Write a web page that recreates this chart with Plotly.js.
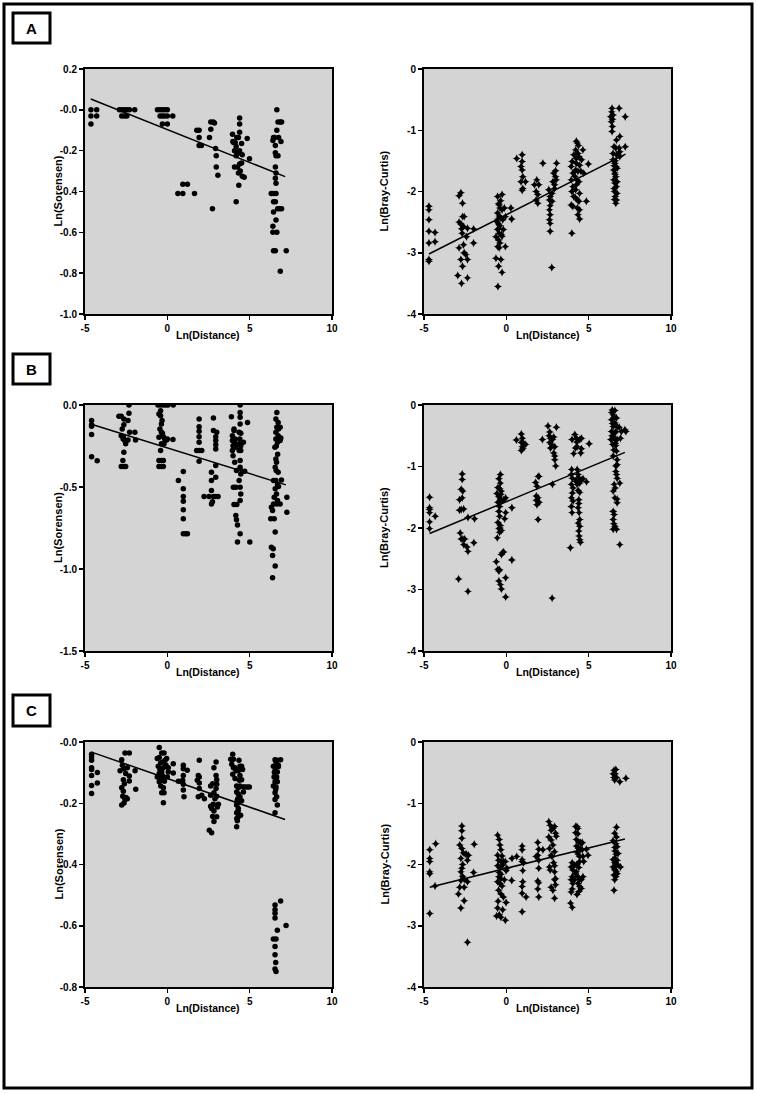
<!DOCTYPE html>
<html>
<head>
<meta charset="utf-8">
<script src="https://cdn.plot.ly/plotly-3.0.1.min.js"></script>
<style>
  html, body { margin: 0; padding: 0; background: #fff; }
  #plots { width: 757px; height: 1094px; }
</style>
</head>
<body>
<div id="plots"></div>
<script>
// ---------- Data ----------
const panelLetters = ['A', 'B', 'C'];
const xTickVals = [-5, 0, 5, 10];
const xTickText = ['-5', '0', '5', '10'];

const sorTickValsA = [0.2, 0, -0.2, -0.4, -0.6, -0.8, -1.0];
const sorTickTextA = ['0.2', '-0.0', '-0.2', '-0.4', '-0.6', '-0.8', '-1.0'];
const sorTickValsB = [0, -0.5, -1.0, -1.5];
const sorTickTextB = ['0.0', '-0.5', '-1.0', '-1.5'];
const sorTickValsC = [0, -0.2, -0.4, -0.6, -0.8];
const sorTickTextC = ['-0.0', '-0.2', '-0.4', '-0.6', '-0.8'];
const bcTickVals = [0, -1, -2, -3, -4];
const bcTickText = ['0', '-1', '-2', '-3', '-4'];

// A: Ln(Sorensen) vs Ln(Distance)
const A_SOR = [[-4.64,0],[-4.64,-0.03],[-4.64,-0.07],[-4.29,0],[-4.29,-0.03],
  [-2.91,0],[-2.77,0],[-2.61,0],[-2.46,0],[-2.30,0],[-2.77,-0.03],[-2.61,-0.03],[-2.46,-0.03],[-1.98,0],
  [-0.6,0],[-0.44,0],[-0.3,0],[-0.16,0],[0,0],[-0.44,-0.03],[-0.3,-0.03],[-0.16,-0.03],[0,-0.03],[-0.3,-0.07],[0,-0.07],[0.33,-0.03],
  [0.64,-0.41],[0.94,-0.41],[0.94,-0.365],[1.22,-0.365],[1.65,-0.41],
  [1.79,-0.1],[1.93,-0.1],[1.93,-0.135],[1.93,-0.175],[2.07,-0.175],
  [2.56,-0.135],[2.64,-0.095],[2.64,-0.06],[2.79,-0.06],[2.86,-0.065],[2.93,-0.19],[2.97,-0.225],[2.97,-0.28],[3.07,-0.32],[2.74,-0.485],
  [3.96,-0.12],[3.98,-0.155],[4.02,-0.16],[4.12,-0.16],[4.22,-0.135],[4.32,-0.135],[4.39,-0.04],[4.39,-0.07],[4.39,-0.11],[4.18,-0.18],
  [4.08,-0.2],[4.18,-0.225],[4.26,-0.215],[4.39,-0.2],[4.51,-0.165],[4.55,-0.22],[4.08,-0.28],[4.26,-0.28],[4.39,-0.265],[4.51,-0.26],
  [4.32,-0.31],[4.43,-0.3],[4.55,-0.325],[4.67,-0.33],[4.34,-0.37],[4.18,-0.45],[4.85,-0.14],[4.99,-0.24],
  [6.41,-0.15],[6.45,-0.135],[6.56,-0.175],[6.56,-0.21],[6.65,0],[6.72,-0.06],[6.86,-0.06],[6.94,-0.06],[6.65,-0.1],[6.52,-0.135],
  [6.76,-0.135],[6.9,-0.155],[6.6,-0.225],[6.72,-0.225],[6.56,-0.28],[6.6,-0.31],[6.56,-0.335],[6.6,-0.36],[6.31,-0.41],[6.45,-0.41],
  [6.6,-0.41],[6.45,-0.45],[6.56,-0.45],[6.45,-0.5],[6.7,-0.485],[6.82,-0.485],[6.94,-0.485],[6.6,-0.54],[6.41,-0.57],[6.41,-0.6],
  [6.65,-0.6],[6.45,-0.69],[6.56,-0.69],[7.22,-0.69],[6.86,-0.79]];
const A_SOR_FIT_X = [-4.65, 7.16];
const A_SOR_FIT_Y = [0.053, -0.327];

// A: Ln(Bray-Curtis) vs Ln(Distance)
const A_BC = [[-4.7,-2.24],[-4.7,-2.3],[-4.7,-2.46],[-4.7,-2.65],[-4.7,-2.84],[-4.7,-3.11],[-4.7,-3.14],[-4.33,-2.67],[-4.33,-2.82],
  [-2.87,-2.07],[-2.76,-2.02],[-2.66,-2.19],[-2.87,-2.5],[-2.76,-2.53],[-2.66,-2.41],[-2.6,-2.57],[-2.72,-2.61],[-2.87,-2.92],[-2.95,-3.37],
  [-2.76,-3.11],[-2.66,-3.22],[-2.72,-3.5],[-2.6,-2.87],[-2.56,-3.0],[-2.46,-3.03],[-2.36,-3.11],[-2.36,-3.41],[-2.42,-2.74],[-2.36,-2.6],
  [-1.99,-2.61],[-1.99,-2.84],[-2.68,-2.68],[-2.56,-2.41],
  [-0.53,-2.08],[-0.26,-2.05],[-0.43,-2.22],[-0.39,-2.27],[-0.26,-2.3],[-0.53,-2.35],[-0.43,-2.4],[-0.33,-2.43],[-0.59,-2.49],[-0.47,-2.53],
  [-0.39,-2.56],[-0.53,-2.62],[-0.43,-2.68],[-0.63,-2.74],[-0.47,-2.79],[-0.39,-2.84],[-0.53,-2.9],[-0.43,-2.92],[-0.63,-3.09],[-0.33,-3.11],
  [-0.47,-3.22],[-0.26,-3.32],[-0.51,-3.55],[-0.12,-2.27],[-0.06,-2.9],[-0.06,-2.41],[0.28,-2.27],[0.33,-2.45],[-0.22,-2.46],[-0.18,-2.62],
  [-0.26,-2.73],[-0.47,-2.2],[-0.35,-2.15],[-0.45,-2.6],[-0.3,-2.7],[-0.5,-2.45],
  [0.63,-1.46],[0.96,-1.4],[0.96,-1.51],[0.89,-1.59],[0.96,-1.65],[1.0,-1.76],[0.89,-1.84],[1.16,-1.84],[1.0,-1.95],[0.96,-1.98],
  [1.71,-1.89],[1.85,-1.81],[1.97,-1.89],[1.81,-2.0],[1.91,-2.05],[1.81,-2.14],[1.91,-2.19],[2.22,-1.54],
  [2.58,-1.97],[2.66,-2.08],[2.62,-2.14],[2.66,-2.23],[2.62,-2.3],[2.66,-2.38],[2.62,-2.46],[2.66,-2.52],[2.66,-2.65],[2.78,-2.03],
  [2.78,-2.16],[2.83,-1.84],[2.87,-1.7],[2.99,-1.66],[3.05,-1.54],[2.93,-1.89],[2.93,-1.95],[2.99,-1.76],[3.03,-1.81],[2.76,-3.24],
  [3.94,-1.59],[4.0,-1.51],[4.04,-1.7],[3.94,-1.81],[4.04,-1.92],[3.98,-2.0],[4.09,-2.08],[3.94,-2.22],[4.04,-2.24],[4.25,-1.18],
  [4.31,-1.21],[4.21,-1.32],[4.35,-1.38],[4.25,-1.46],[4.41,-1.43],[4.25,-1.54],[4.45,-1.57],[4.21,-1.65],[4.35,-1.67],[4.29,-1.81],
  [4.41,-1.84],[4.25,-1.89],[4.21,-1.97],[4.45,-2.03],[4.31,-2.14],[4.41,-2.16],[4.31,-2.27],[4.45,-2.3],[4.35,-2.38],[4.45,-2.45],
  [4.65,-1.32],[4.57,-1.48],[4.53,-1.67],[4.7,-1.7],[4.98,-1.55],[4.86,-2.16],[3.98,-2.68],[4.1,-1.4],[4.15,-1.75],[4.38,-1.25],[4.2,-2.1],
  [6.42,-0.64],[6.85,-0.64],[6.34,-0.78],[6.48,-0.75],[6.38,-0.86],[6.44,-0.94],[6.42,-1.02],[7.22,-0.78],[6.89,-1.1],[6.69,-1.16],
  [6.54,-1.27],[6.65,-1.29],[6.85,-1.29],[7.22,-1.27],[6.48,-1.38],[6.69,-1.4],[6.79,-1.39],[6.48,-1.48],[6.59,-1.54],[6.65,-1.59],
  [6.52,-1.65],[6.59,-1.7],[6.65,-1.76],[6.52,-1.81],[6.59,-1.86],[6.69,-1.92],[6.57,-2.0],[6.61,-2.08],[6.69,-2.14],[6.65,-2.19],
  [6.57,-2.13],[6.73,-2.03],[6.73,-1.84],[6.73,-1.62],[6.89,-1.43],[6.89,-1.35],[6.4,-0.7],[6.45,-0.82],[6.55,-1.58],[6.6,-1.72],
  [6.55,-1.95],[6.62,-1.5]];
const A_BC_FIT_X = [-4.70, 7.24];
const A_BC_FIT_Y = [-3.02, -1.39];

// B: Ln(Sorensen)
const B_SOR = [[-4.6,-0.095],[-4.6,-0.12],[-4.6,-0.13],[-4.6,-0.18],[-4.6,-0.315],[-4.26,-0.34],
  [-2.94,-0.069],[-2.8,-0.069],[-2.64,-0.085],[-2.64,-0.12],[-2.74,-0.146],[-2.8,-0.187],[-2.68,-0.207],[-2.59,-0.217],[-2.53,-0.237],
  [-2.64,-0.288],[-2.7,-0.339],[-2.8,-0.375],[-2.64,-0.375],[-2.53,-0.375],[-2.33,0],[-2.33,-0.051],[-2.39,-0.095],[-2.29,-0.166],
  [-2.39,-0.213],[-1.97,-0.166],[-1.93,-0.213],[-2.68,-0.193],
  [-0.57,0],[-0.41,0],[-0.24,0],[-0.1,0],[0.04,0],[0.36,0],[-0.51,-0.055],[-0.41,-0.065],[-0.36,-0.116],[-0.45,-0.146],[-0.36,-0.166],
  [-0.51,-0.197],[-0.3,-0.173],[-0.24,-0.193],[-0.16,-0.207],[-0.04,-0.213],[0.0,-0.207],[-0.41,-0.278],[-0.51,-0.339],[-0.36,-0.339],
  [-0.24,-0.339],[-0.51,-0.375],[-0.36,-0.375],[-0.24,-0.375],[0.34,-0.211],[-0.36,-0.237],[-0.2,-0.237],[-0.32,-0.095],[-0.41,-0.035],
  [0.67,-0.46],[0.97,-0.406],[0.97,-0.511],[0.97,-0.558],[0.97,-0.587],[0.97,-0.639],[0.97,-0.694],[0.97,-0.785],[1.11,-0.785],[1.22,-0.785],
  [1.93,-0.085],[1.93,-0.132],[1.93,-0.16],[1.93,-0.193],[1.93,-0.227],[1.78,-0.278],[1.93,-0.278],[2.09,-0.278],[1.93,-0.343],
  [2.23,-0.558],[2.53,-0.558],[2.68,-0.522],[2.68,-0.461],[2.68,-0.41],[2.8,-0.079],[2.8,-0.156],[3.0,-0.166],[2.94,-0.193],[2.94,-0.217],
  [2.94,-0.242],[2.94,-0.268],[2.94,-0.369],[2.94,-0.44],[2.8,-0.558],[2.94,-0.558],[3.08,-0.558],[2.68,-0.603],[2.74,-0.59],
  [3.89,-0.071],[4.05,-0.146],[3.95,-0.187],[3.95,-0.217],[3.99,-0.248],[3.95,-0.278],[3.99,-0.309],[4.05,-0.156],[4.12,-0.207],[4.09,-0.233],
  [4.16,-0.258],[4.09,-0.349],[4.2,-0.4],[4.16,-0.501],[4.01,-0.501],[4.05,-0.607],[4.22,-0.607],[4.16,-0.674],[4.2,-0.7],[4.26,-0.731],
  [4.26,-0.836],[4.42,0],[4.42,-0.045],[4.42,-0.075],[4.42,-0.116],[4.36,-0.166],[4.46,-0.173],[4.4,-0.207],[4.36,-0.237],[4.46,-0.248],
  [4.36,-0.278],[4.46,-0.278],[4.42,-0.339],[4.42,-0.38],[4.46,-0.42],[4.56,-0.406],[4.36,-0.461],[4.42,-0.501],[4.46,-0.542],[4.42,-0.583],
  [4.42,-0.785],[4.62,-0.227],[4.7,-0.404],[4.87,-0.106],[5.01,-0.836],
  [6.65,-0.045],[6.59,-0.085],[6.73,-0.106],[6.65,-0.136],[6.75,-0.146],[6.85,-0.136],[6.59,-0.166],[6.73,-0.187],[6.89,-0.201],[6.59,-0.207],
  [6.69,-0.227],[6.85,-0.217],[6.53,-0.258],[6.59,-0.329],[6.63,-0.349],[6.61,-0.4],[6.73,-0.41],[6.45,-0.461],[6.59,-0.461],[6.69,-0.485],
  [6.75,-0.497],[6.93,-0.457],[6.55,-0.511],[6.49,-0.562],[6.63,-0.542],[6.69,-0.583],[6.45,-0.603],[6.32,-0.623],[6.39,-0.643],[6.28,-0.694],
  [6.49,-0.694],[6.65,-0.603],[6.55,-0.775],[6.32,-0.867],[6.43,-0.877],[6.39,-0.917],[6.55,-0.982],[6.39,-1.053],[7.26,-0.562],[7.26,-0.654],
  [6.85,-0.603],[6.62,-0.25],[6.7,-0.3],[6.55,-0.38]];
const B_SOR_FIT_X = [-4.66, 7.2];
const B_SOR_FIT_Y = [-0.116, -0.487];

// B: Ln(Bray-Curtis)
const B_BC = [[-4.66,-1.5],[-4.66,-1.67],[-4.66,-1.75],[-4.66,-1.9],[-4.66,-2.01],[-4.32,-1.81],[-4.66,-1.7],
  [-2.9,-2.83],[-2.8,-2.08],[-2.74,-2.18],[-2.64,-2.18],[-2.53,-2.18],[-2.59,-2.27],[-2.39,-2.31],[-2.33,-2.38],[-2.33,-3.03],[-2.68,-1.12],
  [-2.68,-1.21],[-2.74,-1.37],[-2.64,-1.4],[-2.84,-1.54],[-2.68,-1.51],[-2.74,-1.7],[-2.59,-1.69],[-2.84,-1.71],[-2.33,-1.83],[-1.93,-1.85],[-1.97,-2.24],
  [-0.36,-1.13],[-0.45,-1.2],[-0.36,-1.27],[-0.51,-1.34],[-0.41,-1.36],[-0.3,-1.4],[-0.57,-1.44],[-0.45,-1.49],[-0.36,-1.53],[-0.51,-1.58],
  [-0.3,-1.56],[-0.16,-1.54],[-0.04,-1.51],[-0.41,-1.65],[-0.45,-1.73],[-0.41,-1.81],[-0.51,-1.91],[-0.36,-1.96],[-0.45,-2.01],[-0.3,-2.04],
  [-0.41,-2.07],[-0.55,-2.16],[-0.3,-2.43],[-0.24,-2.4],[-0.16,-2.39],[-0.61,-2.55],[-0.51,-2.67],[-0.45,-2.7],[-0.41,-2.68],[-0.45,-2.86],
  [-0.36,-2.92],[-0.3,-2.99],[-0.04,-2.81],[-0.04,-3.12],[-0.04,-1.75],[-0.1,-1.85],[0.34,-1.67],[0.34,-2.52],[-0.38,-2.0],[-0.33,-1.45],
  [0.61,-0.57],[0.91,-0.47],[0.97,-0.54],[0.91,-0.61],[1.05,-0.62],[0.97,-0.68],[0.91,-0.74],[1.18,-0.64],[1.0,-0.71],
  [1.78,-1.26],[1.86,-1.32],[1.99,-1.16],[1.93,-1.16],[1.82,-1.48],[1.93,-1.51],[1.82,-1.55],[1.99,-1.58],[1.86,-1.62],[1.93,-1.86],
  [2.19,-0.56],[2.53,-0.34],[2.64,-0.44],[2.68,-0.54],[2.64,-0.61],[2.74,-0.64],[2.68,-0.7],[2.8,-0.56],[2.88,-0.52],[2.94,-0.68],
  [2.88,-0.78],[2.94,-0.83],[2.94,-0.89],[3.0,-0.99],[3.04,-0.36],[2.8,-1.29],[2.78,-3.14],[2.6,-0.5],
  [3.99,-0.56],[4.16,-0.48],[4.26,-0.54],[4.09,-0.79],[4.2,-0.7],[4.3,-0.68],[4.46,-0.56],[4.56,-0.54],[4.56,-0.71],[4.52,-0.78],
  [5.03,-0.63],[3.95,-1.13],[4.01,-1.19],[3.95,-1.29],[4.05,-1.35],[4.01,-1.43],[3.95,-1.51],[4.05,-1.56],[3.95,-1.65],[3.99,-1.75],
  [3.89,-2.32],[4.3,-1.05],[4.36,-1.13],[4.26,-1.21],[4.42,-1.19],[4.3,-1.29],[4.46,-1.27],[4.56,-1.22],[4.66,-1.2],[4.36,-1.39],
  [4.46,-1.42],[4.4,-1.54],[4.36,-1.67],[4.42,-1.75],[4.46,-1.86],[4.36,-1.92],[4.46,-1.97],[4.42,-2.13],[4.46,-2.19],[4.5,-2.23],
  [4.87,-1.25],[4.22,-1.24],[4.4,-2.05],[4.4,-1.6],[3.97,-1.05],[4.28,-0.6],
  [6.43,-0.08],[6.59,-0.09],[6.49,-0.16],[6.69,-0.21],[6.39,-0.24],[6.59,-0.29],[6.49,-0.35],[6.73,-0.35],[6.39,-0.43],[6.65,-0.43],
  [6.49,-0.51],[6.59,-0.56],[6.35,-0.56],[6.73,-0.56],[6.45,-0.64],[6.65,-0.66],[6.53,-0.73],[6.69,-0.75],[6.49,-0.83],[6.85,-0.36],
  [6.93,-0.54],[6.99,-0.43],[7.26,-0.43],[7.2,-0.4],[6.73,-0.89],[6.73,-0.97],[6.65,-0.99],[6.65,-1.08],[6.69,-1.13],[6.73,-1.19],
  [6.55,-1.29],[6.61,-1.35],[6.49,-1.4],[6.59,-1.51],[6.73,-1.53],[6.89,-1.27],[6.49,-1.73],[6.55,-1.78],[6.49,-1.86],[6.53,-1.93],
  [6.59,-1.97],[6.49,-2.02],[6.69,-2.02],[6.89,-2.27],[6.73,-1.59],[6.45,-0.3],[6.55,-0.2],[6.6,-0.45],[6.42,-0.5],[6.62,-0.62],[6.4,-0.12]];
const B_BC_FIT_X = [-4.66, 7.2];
const B_BC_FIT_Y = [-2.09, -0.77];

// C: Ln(Sorensen)
const C_SOR = [[-4.6,-0.04],[-4.6,-0.049],[-4.6,-0.06],[-4.6,-0.084],[-4.6,-0.09],[-4.6,-0.109],[-4.6,-0.142],[-4.6,-0.168],[-4.25,-0.1],[-4.25,-0.134],
  [-2.87,-0.094],[-2.77,-0.058],[-2.73,-0.076],[-2.67,-0.123],[-2.77,-0.149],[-2.67,-0.161],[-2.71,-0.177],[-2.77,-0.206],[-2.63,-0.199],
  [-2.57,-0.188],[-2.51,-0.181],[-2.43,-0.185],[-2.57,-0.036],[-2.31,-0.036],[-2.53,-0.103],[-2.43,-0.084],[-2.61,-0.136],[-2.31,-0.127],
  [-2.31,-0.111],[-1.96,-0.094],[-1.92,-0.154],[-2.63,-0.087],
  [-0.49,-0.018],[-0.61,-0.054],[-0.49,-0.051],[-0.34,-0.036],[-0.2,-0.036],[-0.4,-0.068],[-0.28,-0.065],[-0.14,-0.06],[-0.55,-0.079],
  [-0.4,-0.087],[-0.24,-0.084],[-0.04,-0.054],[0.06,-0.084],[-0.49,-0.103],[-0.34,-0.098],[-0.61,-0.114],[-0.4,-0.116],[-0.24,-0.114],
  [0.0,-0.114],[-0.49,-0.13],[-0.32,-0.125],[-0.18,-0.128],[-0.4,-0.144],[-0.24,-0.149],[-0.34,-0.166],[-0.2,-0.166],[-0.24,-0.198],
  [0.36,-0.071],[0.36,-0.101],[0.67,-0.128],[0.06,-0.098],[-0.08,-0.076],[-0.45,-0.09],[-0.3,-0.11],
  [0.97,-0.076],[0.97,-0.087],[0.97,-0.109],[0.93,-0.125],[0.97,-0.138],[0.97,-0.157],[1.01,-0.179],[1.21,-0.092],
  [1.94,-0.06],[1.88,-0.109],[1.94,-0.114],[1.94,-0.134],[1.94,-0.152],[1.88,-0.179],[2.09,-0.174],[2.25,-0.185],[1.82,-0.125],
  [2.63,-0.144],[2.55,-0.288],[2.69,-0.296],[2.63,-0.174],[2.63,-0.21],[2.69,-0.217],[2.75,-0.243],[2.79,-0.203],[2.83,-0.084],[2.96,-0.065],
  [2.96,-0.109],[3.0,-0.123],[3.0,-0.138],[2.96,-0.152],[3.0,-0.177],[2.89,-0.185],[2.83,-0.225],[2.83,-0.26],[3.0,-0.244],[3.1,-0.203],
  [3.04,-0.212],[2.83,-0.166],[2.75,-0.136],
  [3.97,-0.04],[3.85,-0.056],[4.01,-0.056],[3.91,-0.073],[4.01,-0.084],[4.11,-0.084],[4.17,-0.094],[3.97,-0.105],[4.11,-0.119],[4.35,-0.06],
  [4.41,-0.079],[4.51,-0.079],[4.57,-0.09],[4.31,-0.094],[4.41,-0.109],[4.51,-0.123],[4.21,-0.144],[4.31,-0.149],[4.41,-0.144],[4.62,-0.147],
  [4.72,-0.147],[4.86,-0.147],[4.98,-0.147],[4.21,-0.163],[4.31,-0.17],[4.41,-0.179],[4.25,-0.19],[4.21,-0.206],[4.31,-0.217],[4.21,-0.231],
  [4.31,-0.244],[4.25,-0.257],[4.21,-0.277],[4.45,-0.239],[4.51,-0.192],[4.62,-0.163],[4.37,-0.125],[4.25,-0.2],[4.3,-0.225],[4.22,-0.25],[4.28,-0.185],
  [6.54,-0.058],[6.68,-0.06],[6.88,-0.058],[6.44,-0.079],[6.6,-0.079],[6.74,-0.076],[6.54,-0.094],[6.68,-0.098],[6.48,-0.114],[6.64,-0.114],
  [6.54,-0.13],[6.68,-0.13],[6.44,-0.144],[6.6,-0.147],[6.54,-0.166],[6.64,-0.179],[6.54,-0.188],[6.68,-0.206],[6.54,-0.231],[6.74,-0.081],
  [6.6,-0.065],[6.5,-0.1],[6.62,-0.12],[6.58,-0.155],
  [6.54,-0.532],[6.88,-0.519],[6.54,-0.548],[6.54,-0.559],[6.54,-0.575],[6.68,-0.615],[6.44,-0.643],[6.6,-0.643],[6.54,-0.668],[6.54,-0.695],
  [6.58,-0.72],[6.54,-0.741],[6.6,-0.749],[7.21,-0.599]];
const C_SOR_FIT_X = [-4.6, 7.15];
const C_SOR_FIT_Y = [-0.033, -0.253];

// C: Ln(Bray-Curtis)
const C_BC = [[-4.65,-1.76],[-4.65,-1.9],[-4.65,-1.95],[-4.65,-2.12],[-4.65,-2.15],[-4.65,-2.8],[-4.29,-1.66],[-4.33,-2.35],
  [-2.7,-1.37],[-2.7,-1.45],[-2.7,-1.57],[-2.83,-1.68],[-2.7,-1.74],[-2.62,-1.81],[-2.76,-1.9],[-2.5,-1.83],[-2.42,-1.83],[-2.3,-1.85],
  [-2.36,-1.93],[-2.7,-2.06],[-2.76,-2.12],[-2.66,-2.19],[-2.76,-2.26],[-2.56,-2.24],[-2.36,-2.28],[-2.91,-2.48],[-2.83,-2.37],[-2.56,-2.37],
  [-2.56,-2.59],[-2.76,-2.71],[-2.36,-3.27],[-1.95,-1.67],[-1.99,-2.13],[-2.65,-2.0],
  [-0.53,-1.52],[-0.43,-1.59],[-0.39,-1.68],[-0.33,-1.76],[-0.53,-1.85],[-0.26,-1.86],[-0.47,-1.93],[-0.33,-1.95],[-0.18,-1.95],[-0.06,-1.95],
  [-0.53,-2.02],[-0.39,-2.05],[-0.22,-2.01],[-0.43,-2.13],[-0.33,-2.23],[-0.53,-2.28],[-0.39,-2.31],[-0.26,-2.35],[-0.47,-2.42],[-0.33,-2.48],
  [-0.18,-2.53],[-0.02,-2.62],[-0.53,-2.71],[-0.59,-2.84],[-0.43,-2.82],[-0.33,-2.86],[-0.06,-2.91],[-0.22,-2.74],[-0.12,-2.25],[-0.02,-2.1],
  [-0.33,-2.16],[0.35,-1.9],[0.33,-2.26],[0.02,-2.06],[-0.45,-2.2],[-0.5,-2.6],
  [0.63,-1.87],[0.96,-1.76],[0.96,-1.7],[0.96,-1.92],[0.96,-1.95],[1.0,-2.1],[1.0,-2.28],[0.96,-2.36],[0.96,-2.47],[0.96,-2.77],[1.2,-2.53],[1.04,-1.97],
  [1.91,-1.64],[1.97,-1.75],[1.91,-1.85],[1.81,-1.87],[1.97,-1.93],[1.97,-2.06],[1.91,-2.27],[1.97,-2.3],[1.91,-2.4],[1.97,-2.53],[2.22,-1.76],
  [2.58,-1.3],[2.66,-1.36],[2.72,-1.44],[2.83,-1.41],[2.93,-1.38],[2.99,-1.49],[3.03,-1.54],[2.58,-1.55],[2.72,-1.6],[2.83,-1.68],
  [2.62,-1.74],[2.72,-1.85],[2.78,-1.87],[2.93,-1.79],[2.87,-1.97],[2.93,-2.02],[2.62,-2.04],[2.66,-2.09],[2.93,-2.12],[2.99,-2.23],
  [2.93,-2.25],[2.99,-2.33],[2.72,-2.37],[2.83,-2.42],[2.93,-2.55],
  [4.21,-1.38],[4.29,-1.38],[4.35,-1.41],[4.21,-1.48],[4.35,-1.5],[4.25,-1.59],[4.41,-1.64],[4.51,-1.64],[4.25,-1.7],[4.39,-1.74],
  [4.49,-1.75],[4.61,-1.76],[4.55,-1.66],[4.35,-1.83],[4.45,-1.87],[4.65,-1.87],[4.45,-1.95],[4.29,-2.0],[4.0,-1.97],[3.94,-2.04],
  [4.04,-2.09],[4.15,-2.01],[4.0,-2.2],[3.94,-2.25],[4.04,-2.31],[4.15,-2.25],[4.0,-2.4],[3.94,-2.45],[4.25,-2.12],[4.35,-2.2],
  [4.45,-2.24],[4.55,-2.25],[4.35,-2.31],[4.45,-2.36],[4.41,-2.44],[4.29,-2.49],[4.55,-2.39],[3.9,-2.63],[4.0,-2.7],[4.61,-1.64],
  [4.7,-1.95],[4.86,-1.75],[4.96,-1.85],[4.65,-2.2],[4.3,-1.8],[4.4,-2.05],[4.2,-2.15],
  [6.54,-0.46],[6.65,-0.45],[6.48,-0.52],[6.62,-0.52],[6.54,-0.58],[6.69,-0.58],[6.58,-0.62],[6.89,-0.65],[7.26,-0.59],[6.69,-1.39],
  [6.58,-1.49],[6.69,-1.55],[6.48,-1.61],[6.65,-1.66],[6.58,-1.72],[6.73,-1.71],[6.65,-1.83],[6.58,-1.9],[6.48,-1.92],[6.73,-1.93],
  [6.58,-1.97],[6.69,-2.01],[6.79,-2.01],[6.93,-2.04],[6.48,-2.04],[6.58,-2.08],[6.69,-2.12],[6.54,-2.17],[6.65,-2.2],[6.58,-2.25],
  [6.73,-2.15],[6.54,-2.42],[6.79,-1.82],[6.6,-1.78],[6.62,-2.1]];
const C_BC_FIT_X = [-4.65, 7.2];
const C_BC_FIT_Y = [-2.37, -1.585];

(function(){
  // ---------- Config ----------
  const W = 757, H = 1094;
  const FONT = 'Liberation Sans, Arial, sans-serif';
  const plotBg = '#d4d4d4';
  // pixel boxes of the plot areas
  const colPx = [[85, 332], [424, 671]];
  const rowPx = [[69, 314], [405, 651], [742, 987]];
  const letterBoxPx = [[13, 43], [354, 384], [695, 726]];

  const px2x = p => p / W;
  const px2y = p => 1 - p / H;

  const panels = [
    { pts: A_SOR, fx: A_SOR_FIT_X, fy: A_SOR_FIT_Y, range: [-1.0, 0.2], tv: sorTickValsA, tt: sorTickTextA, title: 'Ln(Sorensen)', row: 0, col: 0 },
    { pts: A_BC,  fx: A_BC_FIT_X,  fy: A_BC_FIT_Y,  range: [-4, 0],     tv: bcTickVals,   tt: bcTickText,   title: 'Ln(Bray-Curtis)', row: 0, col: 1 },
    { pts: B_SOR, fx: B_SOR_FIT_X, fy: B_SOR_FIT_Y, range: [-1.5, 0],   tv: sorTickValsB, tt: sorTickTextB, title: 'Ln(Sorensen)', row: 1, col: 0 },
    { pts: B_BC,  fx: B_BC_FIT_X,  fy: B_BC_FIT_Y,  range: [-4, 0],     tv: bcTickVals,   tt: bcTickText,   title: 'Ln(Bray-Curtis)', row: 1, col: 1 },
    { pts: C_SOR, fx: C_SOR_FIT_X, fy: C_SOR_FIT_Y, range: [-0.8, 0],   tv: sorTickValsC, tt: sorTickTextC, title: 'Ln(Sorensen)', row: 2, col: 0 },
    { pts: C_BC,  fx: C_BC_FIT_X,  fy: C_BC_FIT_Y,  range: [-4, 0],     tv: bcTickVals,   tt: bcTickText,   title: 'Ln(Bray-Curtis)', row: 2, col: 1 }
  ];

  const traces = [];
  const layout = {
    width: W, height: H,
    margin: { l: 0, r: 0, t: 0, b: 0 },
    paper_bgcolor: '#fff',
    showlegend: false,
    font: { family: FONT, color: '#000' },
    annotations: [],
    shapes: []
  };

  const axisBase = {
    showline: true, mirror: true, linecolor: '#000', linewidth: 2,
    showgrid: false, zeroline: false,
    ticks: 'outside', ticklen: 4, tickwidth: 1.5, tickcolor: '#000',
    tickfont: { family: FONT, size: 10, weight: 'bold', color: '#000' },
    fixedrange: true
  };

  // text placed at its centre, whatever part of the page it is in
  function label(x, y, text, size, angle){
    return {
      xref: 'paper', yref: 'paper', x: x, y: y, xanchor: 'center', yanchor: 'middle',
      text: text, textangle: angle || 0, showarrow: false,
      font: { family: FONT, size: size, weight: 'bold', color: '#000' }
    };
  }

  panels.forEach((p, i) => {
    const n = i + 1;
    const sfx = n === 1 ? '' : String(n);
    const xa = 'x' + sfx, ya = 'y' + sfx;
    const [xl, xr] = colPx[p.col];
    const [yt, yb] = rowPx[p.row];
    const circle = p.col === 0;

    traces.push({
      x: p.pts.map(d => d[0]), y: p.pts.map(d => d[1]),
      xaxis: xa, yaxis: ya, type: 'scatter', mode: 'markers',
      marker: circle ? { symbol: 'circle', size: 5.5, color: '#000' }
                     : { symbol: 'star-diamond', size: 6, color: '#000' },
      hoverinfo: 'x+y'
    });
    traces.push({
      x: p.fx, y: p.fy, xaxis: xa, yaxis: ya, type: 'scatter', mode: 'lines',
      line: { color: '#000', width: 1.5 }, hoverinfo: 'skip'
    });

    layout['xaxis' + sfx] = Object.assign({}, axisBase, {
      domain: [px2x(xl), px2x(xr)], anchor: ya, range: [-5, 10],
      tickvals: xTickVals, ticktext: xTickText
    });
    layout['yaxis' + sfx] = Object.assign({}, axisBase, {
      domain: [px2y(yb), px2y(yt)], anchor: xa, range: p.range,
      tickvals: p.tv, ticktext: p.tt
    });
    layout.shapes.push({
      type: 'rect', xref: xa + ' domain', yref: ya + ' domain',
      x0: 0, x1: 1, y0: 0, y1: 1, fillcolor: plotBg, line: { width: 0 }, layer: 'below'
    });

    // axis titles
    layout.annotations.push(label(px2x((xl + xr) / 2), px2y(yb + 21), 'Ln(Distance)', 10.5));
    layout.annotations.push(label(px2x(p.col === 0 ? 58 : 384), px2y((yt + yb) / 2), p.title, 11, -90));
  });

  // panel letters in boxes
  panelLetters.forEach((l, i) => {
    const [t, b] = letterBoxPx[i];
    layout.shapes.push({
      type: 'rect', xref: 'paper', yref: 'paper',
      x0: px2x(13), x1: px2x(50), y0: px2y(b), y1: px2y(t),
      line: { color: '#000', width: 3 }
    });
    layout.annotations.push(label(px2x(31.5), px2y((t + b) / 2), l, 15));
  });

  // outer frame
  layout.shapes.push({
    type: 'rect', xref: 'paper', yref: 'paper',
    x0: px2x(4), x1: px2x(752), y0: px2y(1088), y1: px2y(4),
    line: { color: '#000', width: 3 }
  });

  Plotly.newPlot('plots', traces, layout, { displayModeBar: false, staticPlot: true });
})();
</script>
</body>
</html>
